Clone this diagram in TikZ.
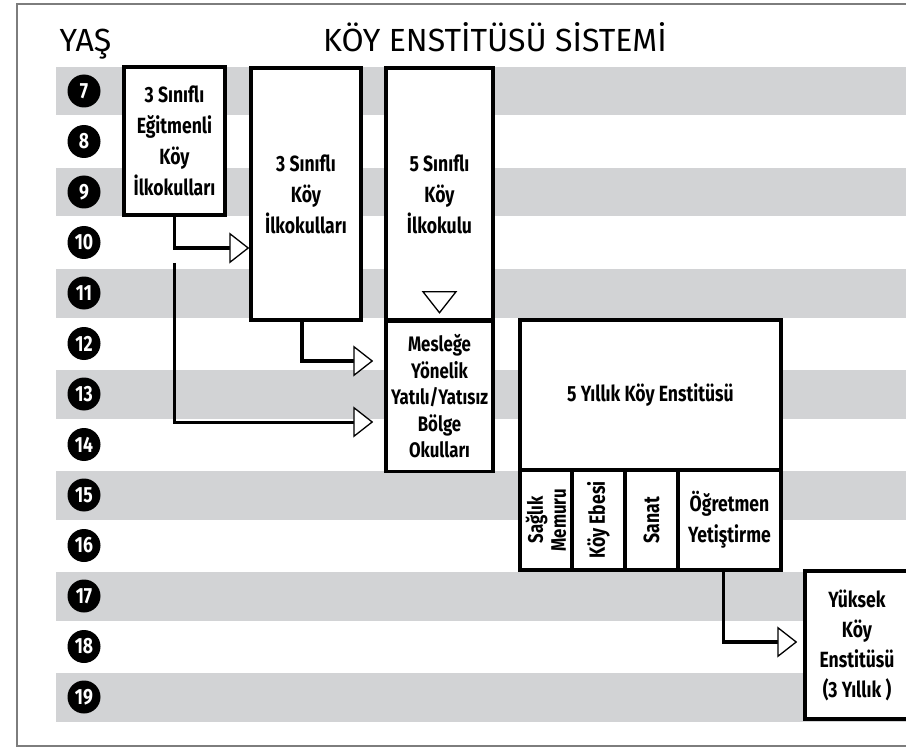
\documentclass[tikz,border=0pt]{standalone}
\usepackage{fontspec}
\setmainfont{Fira Sans}
\newfontfamily\dar{Fira Sans}[FakeStretch=0.8]
\usetikzlibrary{arrows.meta,positioning}
\definecolor{stripegray}{RGB}{210,211,213}
\definecolor{framegray}{RGB}{125,125,125}
\tikzstyle{okul} = [draw, line width=3.5pt, fill=white, align=center, inner sep=0pt,
  font=\dar\bfseries\fontsize{22}{31}\selectfont]
\tikzstyle{yas} = [circle, fill=black, text=white, minimum size=33pt, inner sep=0pt,
  font=\dar\bfseries\fontsize{22}{22}\selectfont]
\tikzstyle{akis} = [line width=3.5pt,
  -{Triangle[length=20pt, width=31pt, line width=1.3pt, fill=white]}]

\begin{document}
\begin{tikzpicture}[x=1pt, y=-1pt]
	\useasboundingbox (0,0) rectangle (906,749);
	\clip (0,0) rectangle (906,749);
	% stripes and ages
	\foreach \k in {0,...,6}
		\fill[stripegray] (56,{67+101*\k}) rectangle (906,{115.5+101*\k});
	\foreach \a [count=\i from 0] in {7,...,19}
		\node[yas] (yas\a) at (84,{91+50.5*\i}) {\a};
	\draw[framegray, line width=1.2pt] (17,4) rectangle (930,746);
	% header
	\node[anchor=base west, font=\fontsize{32}{32}\selectfont] (yas) at (56,52) {YAŞ};
	\node[anchor=base, font=\fontsize{32}{32}\selectfont] (baslik) at (495,52) {KÖY ENSTİTÜSÜ SİSTEMİ};
	% schools
	\node[okul, minimum width=101pt, minimum height=148pt] (egitmen) at (174.5,141)
		{3 Sınıflı\\Eğitmenli\\Köy\\İlkokulları};
	\node[okul, minimum width=110pt, minimum height=252pt] (ucsinif) at (306,194)
		{3 Sınıflı\\Köy\\İlkokulları};
	\node[okul, minimum width=107pt, minimum height=252pt] (bessinif) at (439.5,194)
		{5 Sınıflı\\Köy\\İlkokulu};
	\draw[line width=1.3pt, fill=white] ([shift={(-16.5,-30)}]bessinif.south)
		-- ([shift={(16.5,-30)}]bessinif.south) -- ([shift={(0,-9)}]bessinif.south) -- cycle;
	\node[okul, minimum width=107pt, minimum height=150pt, below=-2pt of bessinif,
		font=\dar\bfseries\fontsize{21}{26.5}\selectfont] (bolge)
		{Mesleğe\\Yönelik\\Yatılı/Yatısız\\Bölge\\Okulları};
	\node[okul, minimum width=261pt, minimum height=150pt] (enstitu) at (650.5,395)
		{5 Yıllık Köy Enstitüsü};
	\node[okul, rotate=90, minimum width=100pt, minimum height=52pt,
		font=\dar\bfseries\fontsize{21}{23}\selectfont] (saglik) at (546,520) {Sağlık\\Memuru};
	\node[okul, rotate=90, minimum width=100pt, minimum height=53pt] (ebe) at (598.5,520) {Köy Ebesi};
	\node[okul, rotate=90, minimum width=100pt, minimum height=53pt] (sanat) at (651.5,520) {Sanat};
	\node[okul, minimum width=103pt, minimum height=100pt] (ogretmen) at (729.5,520)
		{Öğretmen\\Yetiştirme};
	\node[okul, minimum width=104pt, minimum height=148pt,
		font=\dar\bfseries\fontsize{22}{30}\selectfont] (yuksek) at (857,645)
		{Yüksek\\Köy\\Enstitüsü\\(3 Yıllık )};
	% flows
	\coordinate (ayrim) at (174.5,263);
	\draw[akis] (egitmen.south) |- (ucsinif.west |- 0,248);
	\draw[akis, line width=3pt] (ayrim) |- ([xshift=-11pt]bolge.west |- 0,422);
	\draw[akis] ([xshift=-4pt]ucsinif.south) |- ([xshift=-11pt]bolge.west |- 0,361);
	\draw[akis] ([xshift=-6pt]ogretmen.south) |- ([xshift=-6pt]yuksek.west |- 0,642);
\end{tikzpicture}
\end{document}
